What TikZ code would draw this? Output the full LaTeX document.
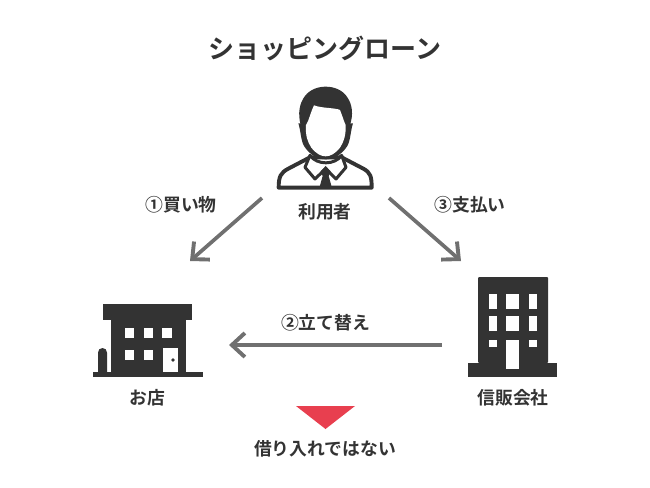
\documentclass[tikz,border=0pt]{standalone}
\usepackage{fontspec}
\setmainfont{Noto Sans CJK JP}[BoldFont={* Bold}]
\usetikzlibrary{arrows.meta}
\definecolor{icondark}{HTML}{333333}
\definecolor{arrowgray}{HTML}{707070}
\definecolor{markred}{HTML}{E83F4F}
\tikzset{
    label text/.style={font=\bfseries\fontsize{17.8}{17.8}\selectfont, text=icondark, inner sep=0pt},
    icon line/.style={draw=icondark, line width=3.9pt, line join=round},
    flow arrow/.style={arrowgray, line width=3.7pt, -{Straight Barb[length=13pt, width=24pt, line width=3.9pt]}}
}
\begin{document}
\begin{tikzpicture}[x=1pt, y=-1pt]
    \useasboundingbox (0,0) rectangle (650,487);

    % Title
    \node[inner sep=0pt, font=\bfseries\fontsize{26}{26}\selectfont, text=icondark] (title) at (325,48) {ショッピングローン};

    % Person
    \begin{scope}[shift={(260,80)}, x=0.3333pt, y=-0.3333pt]
        % shoulders
        \filldraw[icon line, fill=white] (56,323) .. controls (56,290) and (62,278) .. (85,266) -- (150,232) -- (245,232) -- (310,266)
            .. controls (332,278) and (335,290) .. (335,323) -- cycle;
        % collar
        \filldraw[icon line, line width=3pt, fill=white] (150,226) -- (135,262) -- (165,297) -- (197,266) -- (228,297) -- (258,262) -- (245,226) .. controls (225,256) and (170,256) .. (150,226) -- cycle;
        % tie
        \fill[icondark] (197,258) -- (212,274) -- (206,288) -- (216,324) -- (178,324) -- (188,288) -- (182,274) -- cycle;
        % head
        \fill[icondark] (115,130) .. controls (122,150) and (122,180) .. (132,198) .. controls (150,226) and (175,238) .. (197,238)
            .. controls (219,238) and (244,226) .. (262,198) .. controls (272,180) and (272,150) .. (279,130)
            -- cycle;
        \fill[icondark] (122,135) .. controls (113,100) and (118,70) .. (135,48) .. controls (150,28) and (175,20) .. (197,20)
            .. controls (225,20) and (250,32) .. (262,52) .. controls (278,75) and (280,105) .. (270,135) -- cycle;
        \fill[white] (138,135) .. controls (148,120) and (152,95) .. (162,76) .. controls (185,85) and (225,83) .. (240,90)
            .. controls (248,110) and (252,125) .. (257,135) .. controls (258,165) and (252,185) .. (240,203)
            .. controls (225,222) and (210,229) .. (197,229) .. controls (184,229) and (169,222) .. (154,203)
            .. controls (142,185) and (136,165) .. (138,135) -- cycle;
    \end{scope}
    \node[label text] (user) at (325,212) {利用者};

    % Shop
    \begin{scope}
        \fill[icondark] (103,304) rectangle (192,320);
        \fill[icondark] (111,320) rectangle (186,373);
        \fill[icondark] (93,372) rectangle (203,377);
        \fill[icondark] (98,373) -- (98,352.5) arc[start angle=180, end angle=360, radius=4.5] -- (107,373) -- cycle;
        \foreach \wx in {124.5,143.5,162} {
            \fill[white] (\wx,328) rectangle ++(9.5,10);
        }
        \foreach \wx in {124.5,143.5} {
            \fill[white] (\wx,349.5) rectangle ++(9.5,10.5);
        }
        \fill[white] (163,348) rectangle (178,372);
        \fill[icondark] (173,360) circle[radius=1.8];
    \end{scope}
    \node[label text] (shop) at (147,398) {お店};

    % Credit company
    \begin{scope}
        \fill[icondark, rounded corners=1pt] (478,363) -- (478,277) -- (548,277) -- (548,363) -- cycle;
        \fill[icondark] (468,363) rectangle (557,377);
        \foreach \wy in {294,316} {
            \fill[white] (489,\wy) rectangle ++(8,15);
            \fill[white] (506,\wy) rectangle ++(13,15);
            \fill[white] (529,\wy) rectangle ++(8,15);
        }
        \fill[white] (489,340) rectangle ++(8,7);
        \fill[white] (529,340) rectangle ++(8,7);
        \fill[white] (506,340) rectangle (519,369);
    \end{scope}
    \node[label text] (credit) at (513,398) {信販会社};

    % Arrows
    \coordinate (a1s) at (262,198);
    \coordinate (a1e) at (190,261);
    \coordinate (a3s) at (389,198);
    \coordinate (a3e) at (461,261);
    \coordinate (a2s) at (442,345);
    \coordinate (a2e) at (229,345);
    \draw[flow arrow] (a1s) -- (a1e);
    \draw[flow arrow] (a3s) -- (a3e);
    \draw[flow arrow] (a2s) -- (a2e);
    \node[label text] (buy) at (181,205) {①買い物};
    \node[label text] (pay) at (470,205) {③支払い};
    \node[label text] (advance) at (325.5,323) {②立て替え};

    % Marker
    \fill[markred] (296,406) -- (355,406) -- (325.5,429) -- cycle;
    \node[label text] (note) at (325,449) {借り入れではない};
\end{tikzpicture}
\end{document}
